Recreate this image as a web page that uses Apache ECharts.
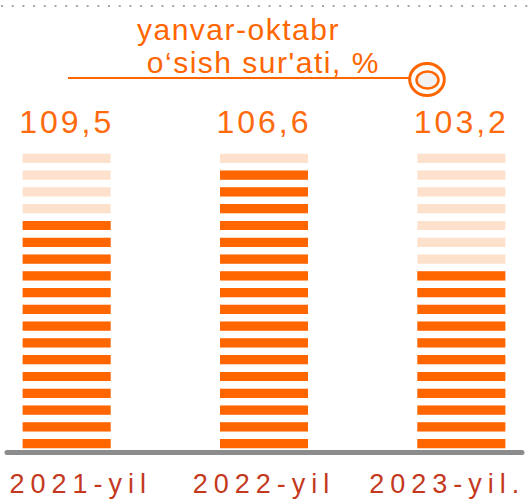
<!DOCTYPE html>
<html>
<head>
<meta charset="utf-8">
<script src="https://cdn.jsdelivr.net/npm/echarts@6/dist/echarts.min.js"></script>
<style>
html, body { margin: 0; padding: 0; background: #fff; }
#chart { width: 531px; height: 502px; }
#chart text { white-space: pre; }
/* the picture uses widely spaced lettering */
#chart text[fill="#ff6600"] { letter-spacing: 1.5px; }
#chart text[fill="#ff6a0d"] { letter-spacing: 3px; }
#chart text[fill="#c4391e"] { letter-spacing: 6px; }
</style>
</head>
<body>
<div id="chart"></div>
<script>
const years = ['2021-yil', '2022-yil', '2023-yil.'];
const growth = [109.5, 106.6, 103.2];
const stripesTotal = [18, 18, 18];
const stripesFilled = [14, 17, 11];

const font = "'Liberation Sans', Arial, sans-serif";
const chart = echarts.init(document.getElementById('chart'), null, {renderer: 'svg'});

const stripe = {
  type: 'pictorialBar',
  symbol: 'rect',
  symbolRepeat: 'fixed',
  symbolMargin: '4!',
  symbolSize: [88, 9],
  symbolBoundingData: 18,
  barWidth: 88,
  barGap: '-100%',
  silent: true
};

chart.setOption({
  animation: false,
  title: {
    text: 'yanvar-oktabr\n o‘sish sur\'ati, %',
    left: 137,
    top: 13,
    padding: 0,
    textStyle: {color: '#ff6600', fontSize: 30, fontWeight: 'normal', lineHeight: 33, fontFamily: font}
  },
  graphic: [
    {type: 'line', shape: {x1: 1, y1: 6, x2: 531, y2: 6}, style: {stroke: '#a6a6a6', lineWidth: 2, lineDash: [2, 8.7]}},
    {type: 'line', shape: {x1: 68, y1: 78, x2: 410, y2: 78}, style: {stroke: '#ff6600', lineWidth: 2}},
    {type: 'ellipse', shape: {cx: 427, cy: 79.5, rx: 17.3, ry: 16}, style: {fill: '#fff', stroke: '#ff6600', lineWidth: 3}},
    {type: 'ellipse', shape: {cx: 427.5, cy: 80, rx: 11, ry: 8.5}, style: {fill: '#f2f2f2', stroke: '#ff6600', lineWidth: 2.5}}
  ],
  grid: [
    {left: -32, right: -29, top: 150, bottom: 50, outerBoundsMode: 'none'},
    {left: 7, right: 9, top: 150, bottom: 49.3, outerBoundsMode: 'none'},
    {left: -11, right: -8, top: 150, bottom: 50, outerBoundsMode: 'none'}
  ],
  xAxis: [
    {gridIndex: 0, type: 'category', data: years, axisLine: {show: false}, axisTick: {show: false}, axisLabel: {show: false}},
    {gridIndex: 1, type: 'category', data: years, axisLine: {lineStyle: {color: '#8c8c8c', width: 5}}, axisTick: {show: false}, axisLabel: {show: false}},
    {gridIndex: 2, type: 'category', data: years, axisLine: {show: false}, axisTick: {show: false},
      axisLabel: {margin: 18, fontSize: 27, color: '#c4391e', fontFamily: font}}
  ],
  yAxis: [
    {gridIndex: 0, type: 'value', min: 0, max: 18, show: false},
    {gridIndex: 1, type: 'value', show: false},
    {gridIndex: 2, type: 'value', show: false}
  ],
  series: [
    Object.assign({}, stripe, {
      data: stripesTotal,
      z: 1,
      itemStyle: {color: '#fee1cc'},
      label: {
        show: true,
        position: 'top',
        distance: 12,
        fontSize: 32,
        lineHeight: 32,
        color: '#ff6a0d',
        fontFamily: font,
        formatter: p => growth[p.dataIndex].toFixed(1).replace('.', ',')
      }
    }),
    Object.assign({}, stripe, {
      data: stripesFilled,
      z: 2,
      symbolClip: true,
      itemStyle: {color: '#ff6600'}
    })
  ]
});
</script>
</body>
</html>
